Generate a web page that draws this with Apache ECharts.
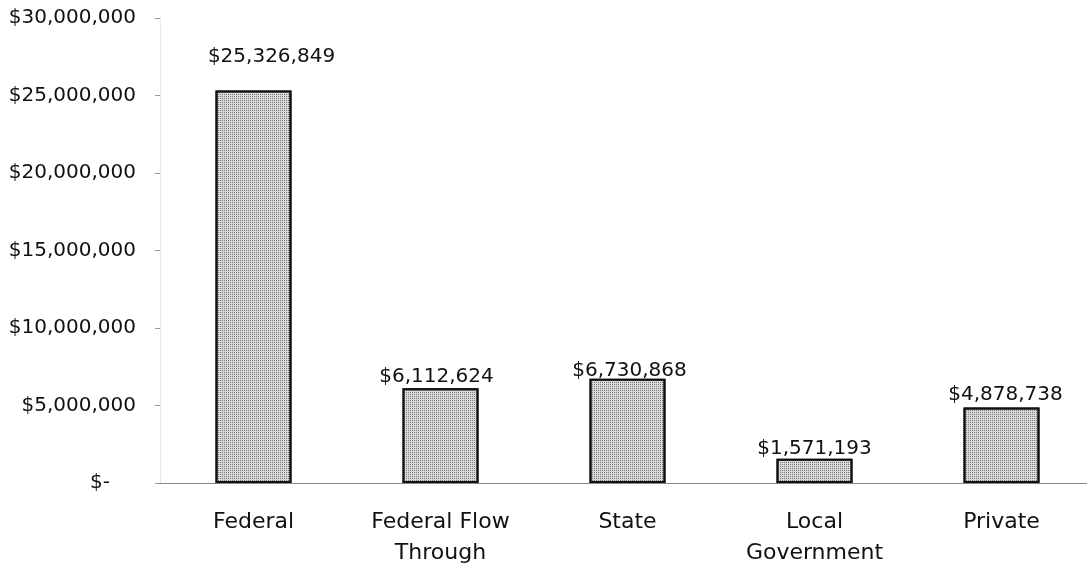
<!DOCTYPE html>
<html>
<head>
<meta charset="utf-8">
<script src="https://cdn.jsdelivr.net/npm/echarts@6/dist/echarts.min.js"></script>
<style>
html,body{margin:0;padding:0;background:#fff;}
#chart{width:1087px;height:570px;}
</style>
</head>
<body>
<div id="chart"></div>
<script>
// 资金来源分类
var categories = ['Federal', 'Federal Flow\nThrough', 'State', 'Local\nGovernment', 'Private'];
// 金额
var amounts = [25326849, 6112624, 6730868, 1571193, 4878738];
// y轴刻度
var yMin = 0, yMax = 30000000, yStep = 5000000;

// 标签离柱顶的距离和水平偏移（按原图）
var labelGap = [24, 1, -2, 0, 3];
var labelShiftX = [18, -4, 2, 0, 4];

function money(v){
	return '$' + Number(v).toLocaleString('en-US');
}

var myChart = echarts.init(document.getElementById('chart'));

var barData = amounts.map(function(v, i){
	return {value: v, label: {distance: labelGap[i], offset: [labelShiftX[i], 0]}};
});

myChart.setOption({
	animation: false,
	backgroundColor: '#fff',
	grid: {left: 160, width: 935, top: 18, bottom: 87, containLabel: false, outerBoundsMode: 'none'},
	xAxis: {
		type: 'category',
		data: categories,
		axisLine: {lineStyle: {color: '#888', width: 1}},
		axisTick: {show: false},
		axisLabel: {
			color: '#111',
			fontFamily: 'DejaVu Sans',
			fontSize: 22,
			lineHeight: 31,
			margin: 24
		}
	},
	yAxis: {
		type: 'value',
		min: yMin,
		max: yMax,
		interval: yStep,
		splitLine: {show: false},
		axisLine: {show: true, lineStyle: {color: '#e4e4e4', type: 'dotted'}},
		axisTick: {show: true, length: 5, lineStyle: {color: '#999'}},
		axisLabel: {
			color: '#111',
			fontFamily: 'DejaVu Sans',
			fontSize: 20,
			margin: 24,
			formatter: function(v){
				if(v === 0) return '{z|$-}';
				return money(v);
			},
			rich: {
				z: {fontFamily: 'DejaVu Sans', fontSize: 20, color: '#111', padding: [0, 26, 0, 0]}
			}
		}
	},
	series: [{
		type: 'bar',
		data: barData,
		barWidth: 76,
		itemStyle: {
			color: '#dadada',
			borderColor: '#111',
			borderWidth: 2,
			decal: {
				symbol: 'rect',
				symbolSize: 1,
				color: '#7a7a7a',
				dashArrayX: [1, 1],
				dashArrayY: [1, 1],
				rotation: 0
			}
		},
		label: {
			show: true,
			position: 'top',
			color: '#111',
			fontFamily: 'DejaVu Sans',
			fontSize: 20,
			formatter: function(p){ return money(p.value); }
		}
	}]
});
</script>
</body>
</html>
